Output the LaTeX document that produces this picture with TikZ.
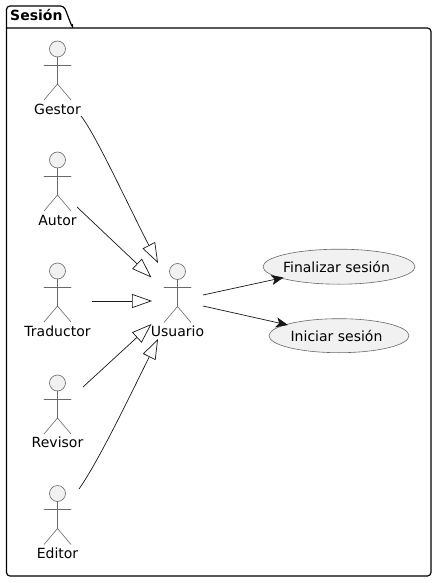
\documentclass[tikz,border=0pt]{standalone}
\usepackage{fontspec}
\setmainfont{DejaVu Sans}
\usetikzlibrary{arrows.meta,shapes.geometric}
\definecolor{umlfill}{HTML}{F1F1F1}
\definecolor{umlline}{HTML}{181818}
\tikzset{
  pkg/.style={draw=black,line width=1.2pt,line join=round},
  actorline/.style={draw=umlline!65,line width=0.6pt,line cap=round},
  actorhead/.style={circle,draw=umlline!65,fill=umlfill,line width=0.6pt,minimum size=16pt,inner sep=0pt},
  lbl/.style={font=\fontsize{14}{16}\selectfont,text=black,inner sep=0pt},
  usecase/.style={ellipse,draw=umlline!65,fill=umlfill,line width=0.6pt,inner sep=0pt},
  gen/.style={draw=umlline,line width=0.7pt,-{Triangle[open,length=20pt,width=14pt,fill=white]}},
  assoc/.style={draw=umlline,line width=0.7pt,-{Stealth[length=12pt,width=10pt,inset=3pt]}},
  actorfig/.pic={
    \node[actorhead] at (0,0) {};
    \draw[actorline] (0,8) -- (0,35);
    \draw[actorline] (-13.5,16) -- (13.5,16);
    \draw[actorline] (-13.5,51) -- (0,35) -- (13.5,51);
  }
}
\begin{document}
\begin{tikzpicture}[x=1pt,y=-1pt]
\useasboundingbox (0,0) rectangle (437,583);
\fill[white] (0,0) rectangle (437,583);
% package
\draw[pkg,rounded corners=3.5pt] (6.5,28) -- (6.5,6) -- (64,6) -- (72.5,28) [sharp corners] -- (72.5,28);
\draw[pkg,rounded corners=3.5pt] (6.5,28) -- (6.5,576) -- (431,576) -- (431,28) -- (60,28) [sharp corners] -- (6.5,28);
\node[lbl,font=\fontsize{14}{16}\selectfont\bfseries,anchor=base west] (pkgname) at (10,21) {Sesión};
% actors
\pic at (57.5,49) {actorfig};
\pic at (57.5,160) {actorfig};
\pic at (57.5,271) {actorfig};
\pic at (57.5,383) {actorfig};
\pic at (57.5,493.5) {actorfig};
\pic at (177.5,271.5) {actorfig};
\node[lbl] (gestor) at (57.5,109) {Gestor};
\node[lbl] (autor) at (57.5,220) {Autor};
\node[lbl] (traductor) at (57.5,331) {Traductor};
\node[lbl] (revisor) at (57.5,442) {Revisor};
\node[lbl] (editor) at (57.5,553) {Editor};
\node[lbl] (usuario) at (177.5,331) {Usuario};
% use cases
\node[usecase,minimum width=152pt,minimum height=35pt] (finalizar) at (339,266.7) {};
\node[usecase,minimum width=140pt,minimum height=34pt] (iniciar) at (339,335.7) {};
\node[lbl] (finalizarText) at (336.5,266.5) {Finalizar sesión};
\node[lbl] (iniciarText) at (336.5,335.5) {Iniciar sesión};
% connector ends
\coordinate (gestorOut) at (81,116);
\coordinate (autorOut) at (77,207);
\coordinate (traductorOut) at (92,301);
\coordinate (revisorOut) at (83,387);
\coordinate (editorOut) at (79,489);
\coordinate (usrA) at (158,263);
\coordinate (usrB) at (151.5,277.5);
\coordinate (usrC) at (152,301);
\coordinate (usrD) at (151.5,324);
\coordinate (usrE) at (158,339);
\coordinate (usrOutA) at (203,295);
\coordinate (usrOutB) at (203,306);
\coordinate (finIn) at (283.5,277.5);
\coordinate (iniIn) at (288,325);
% connectors
\draw[gen] (gestorOut) .. controls (96,135) and (128,205) .. (usrA);
\draw[gen] (autorOut) -- (usrB);
\draw[gen] (traductorOut) -- (usrC);
\draw[gen] (revisorOut) -- (usrD);
\draw[gen] (editorOut) .. controls (98,462) and (128,400) .. (usrE);
\draw[assoc] (usrOutA) -- (finIn);
\draw[assoc] (usrOutB) -- (iniIn);
\end{tikzpicture}
\end{document}
